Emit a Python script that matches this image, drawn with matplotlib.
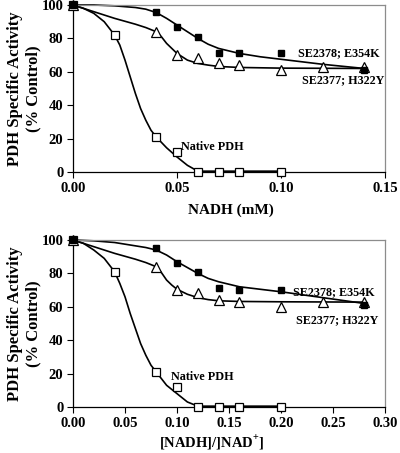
import matplotlib
matplotlib.use("Agg")
import matplotlib.pyplot as plt

plt.rcParams["font.family"] = ["Liberation Serif", "DejaVu Serif"]
plt.rcParams["font.weight"] = "bold"
plt.rcParams["axes.labelweight"] = "bold"
plt.rcParams["mathtext.fontset"] = "custom"
plt.rcParams["mathtext.rm"] = "Liberation Serif:bold"
plt.rcParams["mathtext.bf"] = "Liberation Serif:bold"

# ---- top panel: NADH (mM) ----
nadh_e354k_x = [0.0, 0.04, 0.05, 0.06, 0.07, 0.08, 0.10, 0.14]
nadh_e354k_y = [100, 96, 87, 81, 71, 71, 71, 61]
nadh_h322y_x = [0.0, 0.04, 0.05, 0.06, 0.07, 0.08, 0.10, 0.12, 0.14]
nadh_h322y_y = [100, 84, 70, 68, 65, 64, 61, 63, 63]
nadh_native_x = [0.0, 0.02, 0.04, 0.05, 0.06, 0.07, 0.08, 0.10]
nadh_native_y = [100, 82, 21, 12, 0, 0, 0, 0]

# fitted curves
nadh_e354k_fit_x = [0, 0.01, 0.02, 0.025, 0.03, 0.035, 0.04, 0.045, 0.05, 0.055,
                    0.06, 0.065, 0.07, 0.08, 0.09, 0.10, 0.12, 0.14]
nadh_e354k_fit_y = [100, 100, 99.5, 99, 98.5, 97.5, 95.5, 92, 88, 84,
                    80, 76.5, 74, 71, 69, 67.5, 64.5, 62]
nadh_h322y_fit_x = [0, 0.01, 0.02, 0.03, 0.035, 0.04, 0.0425, 0.045, 0.0475, 0.05,
                    0.055, 0.06, 0.065, 0.07, 0.08, 0.10, 0.14]
nadh_h322y_fit_y = [100, 96, 92, 88.5, 86.5, 84, 81, 77, 74, 71,
                    67, 65, 64, 63.2, 62.6, 62.2, 62]
nadh_native_fit_x = [0, 0.005, 0.01, 0.015, 0.02, 0.0225, 0.025, 0.0275, 0.03, 0.0325,
                     0.035, 0.0375, 0.04, 0.045, 0.05, 0.055, 0.06, 0.10]
nadh_native_fit_y = [100, 98, 95, 90, 82, 76, 67, 57, 47, 38,
                     31, 25, 21, 14.5, 9, 4, 0.5, 0.5]

# ---- bottom panel: [NADH]/[NAD+] ----
ratio_e354k_x = [0.0, 0.08, 0.10, 0.12, 0.14, 0.16, 0.20, 0.28]
ratio_e354k_y = [100, 95, 86, 81, 71, 70, 70, 61]
ratio_h322y_x = [0.0, 0.08, 0.10, 0.12, 0.14, 0.16, 0.20, 0.24, 0.28]
ratio_h322y_y = [100, 84, 70, 68, 64, 63, 60, 63, 63]
ratio_native_x = [0.0, 0.04, 0.08, 0.10, 0.12, 0.14, 0.16, 0.20]
ratio_native_y = [100, 81, 21, 12, 0, 0, 0, 0]

ratio_e354k_fit_x = [0, 0.02, 0.04, 0.05, 0.06, 0.07, 0.08, 0.09, 0.10, 0.11,
                     0.12, 0.13, 0.14, 0.16, 0.18, 0.20, 0.24, 0.28]
ratio_e354k_fit_y = [100, 99.5, 98.5, 97.5, 96.5, 95.5, 94, 91, 87, 83.5,
                     80, 77, 75, 72, 70.5, 69, 65.5, 62]
ratio_h322y_fit_x = [0, 0.02, 0.04, 0.06, 0.07, 0.08, 0.085, 0.09, 0.095, 0.10,
                     0.11, 0.12, 0.13, 0.14, 0.16, 0.20, 0.28]
ratio_h322y_fit_y = [100, 96, 92, 88.5, 86.5, 84, 80.5, 76, 73, 70.5,
                     67.5, 65.5, 64.3, 63.6, 63.2, 63, 62.8]
ratio_native_fit_x = [0, 0.01, 0.02, 0.03, 0.04, 0.045, 0.05, 0.055, 0.06, 0.065,
                      0.07, 0.075, 0.08, 0.09, 0.10, 0.11, 0.12, 0.20]
ratio_native_fit_y = [100, 98, 94, 89, 81, 74, 66, 56, 47, 38,
                      31, 25, 21, 13, 8, 3, 0.5, 0.5]

y_ticks = [0, 20, 40, 60, 80, 100]
top_x_ticks = [0.00, 0.05, 0.10, 0.15]
bottom_x_ticks = [0.00, 0.05, 0.10, 0.15, 0.20, 0.25, 0.30]


def draw_panel(ax, series, fits, xmax, xticks, labels):
    for (fx, fy) in fits:
        ax.plot(fx, fy, color="black", lw=1.2, zorder=2, clip_on=False)
    (ex, ey), (hx, hy), (nx, ny) = series
    ax.plot(nx, ny, ls="none", marker="s", ms=5.5, mfc="white", mec="black",
            mew=0.9, zorder=3, clip_on=False)
    ax.plot(hx, hy, ls="none", marker="^", ms=7, mfc="white", mec="black",
            mew=0.9, zorder=3, clip_on=False)
    ax.plot(ex, ey, ls="none", marker="s", ms=5, mfc="black", mec="black",
            zorder=4, clip_on=False)

    ax.set_xlim(0, xmax)
    ax.set_ylim(0, 100)
    ax.set_xticks(xticks)
    ax.set_xticklabels([f"{t:.2f}" for t in xticks])
    ax.set_yticks(y_ticks)
    ax.tick_params(axis="both", direction="out", length=4, width=0.8,
                   labelsize=10.5, pad=3)
    for s in ("top", "right"):
        ax.spines[s].set_color("#8c8c8c")
        ax.spines[s].set_linewidth(0.9)
    for s in ("left", "bottom"):
        ax.spines[s].set_color("black")
        ax.spines[s].set_linewidth(0.9)

    for (tx, ty, txt) in labels:
        ax.text(tx, ty, txt, fontsize=8.7, va="center", ha="left")


fig = plt.figure(figsize=(4.0, 4.53), dpi=100)
ax1 = fig.add_axes([73 / 400, 1 - 172 / 453, 312 / 400, 167 / 453])
ax2 = fig.add_axes([73 / 400, 1 - 407 / 453, 312 / 400, 167 / 453])

draw_panel(
    ax1,
    [(nadh_e354k_x, nadh_e354k_y), (nadh_h322y_x, nadh_h322y_y), (nadh_native_x, nadh_native_y)],
    [(nadh_e354k_fit_x, nadh_e354k_fit_y), (nadh_h322y_fit_x, nadh_h322y_fit_y),
     (nadh_native_fit_x, nadh_native_fit_y)],
    0.15, top_x_ticks,
    [(0.108, 71.5, "SE2378; E354K"), (0.110, 55, "SE2377; H322Y"), (0.052, 15, "Native PDH")],
)
draw_panel(
    ax2,
    [(ratio_e354k_x, ratio_e354k_y), (ratio_h322y_x, ratio_h322y_y), (ratio_native_x, ratio_native_y)],
    [(ratio_e354k_fit_x, ratio_e354k_fit_y), (ratio_h322y_fit_x, ratio_h322y_fit_y),
     (ratio_native_fit_x, ratio_native_fit_y)],
    0.30, bottom_x_ticks,
    [(0.212, 69, "SE2378; E354K"), (0.214, 52, "SE2377; H322Y"), (0.094, 18, "Native PDH")],
)

fig.text(231 / 400, 1 - 210 / 453, "NADH (mM)", fontsize=11,
         ha="center", va="center")
fig.text(212 / 400, 1 - 443 / 453, r"[NADH]/]NAD$^{\mathbf{+}}$]", fontsize=10.5,
         ha="center", va="center")

for yc in (88.5, 323.5):
    fig.text(15 / 400, 1 - yc / 453, "PDH Specific Activity", rotation=90,
             fontsize=12, ha="center", va="center")
    fig.text(33 / 400, 1 - yc / 453, "(% Control)", rotation=90,
             fontsize=12, ha="center", va="center")

fig.savefig("out.png", dpi=100)
